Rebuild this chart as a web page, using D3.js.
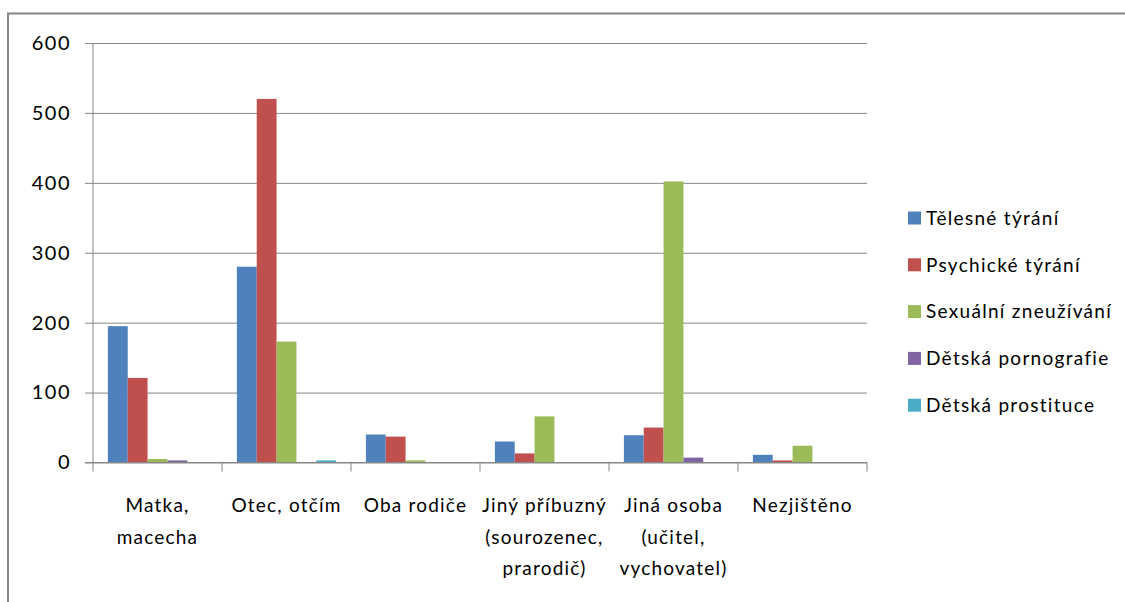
<!DOCTYPE html>
<html>
<head>
<meta charset="utf-8">
<script src="https://cdn.jsdelivr.net/npm/d3@7"></script>
<style>
  html, body { margin: 0; padding: 0; background: #fff; }
  svg { display: block; }
  text { font-family: Lato, "Liberation Sans", sans-serif; fill: #000; }
</style>
</head>
<body>
<svg id="chart" width="1125" height="602"></svg>
<script>
// Perpetrator categories (x axis), each label split into its lines
const categories = [
  ["Matka,", "macecha"],
  ["Otec, otčím"],
  ["Oba rodiče"],
  ["Jiný příbuzný", "(sourozenec,", "prarodič)"],
  ["Jiná osoba", "(učitel,", "vychovatel)"],
  ["Nezjištěno"]
];
const categoryKeys = categories.map(c => c.join(" "));

// Abuse types (series)
const seriesNames = [
  "Tělesné týrání",
  "Psychické týrání",
  "Sexuální zneužívání",
  "Dětská pornografie",
  "Dětská prostituce"
];

// Case counts per series, in category order
const telesne      = [195, 280, 40, 30, 39, 11];
const psychicke    = [121, 520, 37, 13, 50, 3];
const sexualni     = [5, 173, 3, 66, 402, 24];
const pornografie  = [3, 0, 0, 0, 7, 0];
const prostituce   = [0, 3, 0, 0, 0, 0];
const seriesValues = [telesne, psychicke, sexualni, pornografie, prostituce];

const yTicks = [0, 100, 200, 300, 400, 500, 600];

const colors = ["#4F81BD", "#C0504D", "#9BBB59", "#8064A2", "#4BACC6"];
const gridColor = "#868686";

const svg = d3.select("#chart");

// Outer frame (cropped at right and bottom)
svg.append("path")
  .attr("d", "M8,603 L8,13.5 L1126,13.5")
  .attr("fill", "none")
  .attr("stroke", gridColor)
  .attr("stroke-width", 2);

const plot = { left: 93, right: 867, top: 43, bottom: 462.5 };

const x = d3.scaleBand()
  .domain(categoryKeys)
  .range([plot.left, plot.right])
  .paddingInner(0)
  .paddingOuter(0);

const xs = d3.scaleBand()
  .domain(seriesNames)
  .range([0, x.bandwidth()])
  .paddingInner(0)
  .paddingOuter(0.75);

const y = d3.scaleLinear()
  .domain([0, 600])
  .range([plot.bottom, plot.top]);

// Horizontal gridlines with tick labels
const yAxis = d3.axisLeft(y)
  .tickValues(yTicks)
  .tickSize(-(plot.right - plot.left))
  .tickPadding(22)
  .tickFormat(d3.format("d"));

const gy = svg.append("g")
  .attr("transform", `translate(${plot.left},0)`)
  .call(yAxis);
gy.select(".domain").remove();
gy.selectAll(".tick line")
  .attr("x1", -8)
  .attr("stroke", gridColor)
  .attr("stroke-width", 1);
gy.selectAll(".tick text")
  .attr("font-size", 20)
  .attr("font-family", "Lato, sans-serif")
  .attr("letter-spacing", 1.5)
  .attr("fill", "#000");

// Vertical axis line
svg.append("line")
  .attr("x1", plot.left).attr("x2", plot.left)
  .attr("y1", plot.top).attr("y2", plot.bottom)
  .attr("stroke", gridColor);

// Bars
const groups = svg.append("g").selectAll("g")
  .data(seriesNames)
  .join("g")
  .attr("fill", (d, i) => colors[i]);

groups.selectAll("rect")
  .data((s, si) => seriesValues[si].map((v, ci) => ({ s, v, c: categoryKeys[ci] })))
  .join("rect")
  .attr("x", d => x(d.c) + xs(d.s))
  .attr("width", xs.bandwidth())
  .attr("y", d => y(d.v))
  .attr("height", d => y(0) - y(d.v));

// Horizontal axis with category separators
const xAxisLine = svg.append("g");
xAxisLine.append("line")
  .attr("x1", plot.left - 8).attr("x2", plot.right)
  .attr("y1", plot.bottom).attr("y2", plot.bottom)
  .attr("stroke", gridColor);
const boundaries = categoryKeys.map(k => x(k)).concat([plot.right]);
xAxisLine.selectAll("line.sep")
  .data(boundaries)
  .join("line")
  .attr("class", "sep")
  .attr("x1", d => d).attr("x2", d => d)
  .attr("y1", plot.bottom).attr("y2", plot.bottom + 9)
  .attr("stroke", gridColor);

// Category labels
const labels = svg.append("g").selectAll("text")
  .data(categories)
  .join("text")
  .attr("text-anchor", "middle")
  .attr("font-size", 19)
  .attr("letter-spacing", 1.2)
  .attr("x", (d, i) => x(categoryKeys[i]) + x.bandwidth() / 2)
  .attr("y", 512);
labels.selectAll("tspan")
  .data(d => d)
  .join("tspan")
  .attr("x", function () { return this.parentNode.getAttribute("x"); })
  .attr("dy", (d, i) => i === 0 ? 0 : 31.5)
  .text(d => d);

// Legend
const legend = svg.append("g").selectAll("g")
  .data(seriesNames)
  .join("g")
  .attr("transform", (d, i) => `translate(908, ${218 + i * 46.8})`);
legend.append("rect")
  .attr("x", 0).attr("y", -6.5)
  .attr("width", 13).attr("height", 13)
  .attr("fill", (d, i) => colors[i]);
legend.append("text")
  .attr("x", 18)
  .attr("y", 0)
  .attr("dy", "0.36em")
  .attr("font-size", 19)
  .attr("letter-spacing", 1.3)
  .text(d => d);
</script>
</body>
</html>
